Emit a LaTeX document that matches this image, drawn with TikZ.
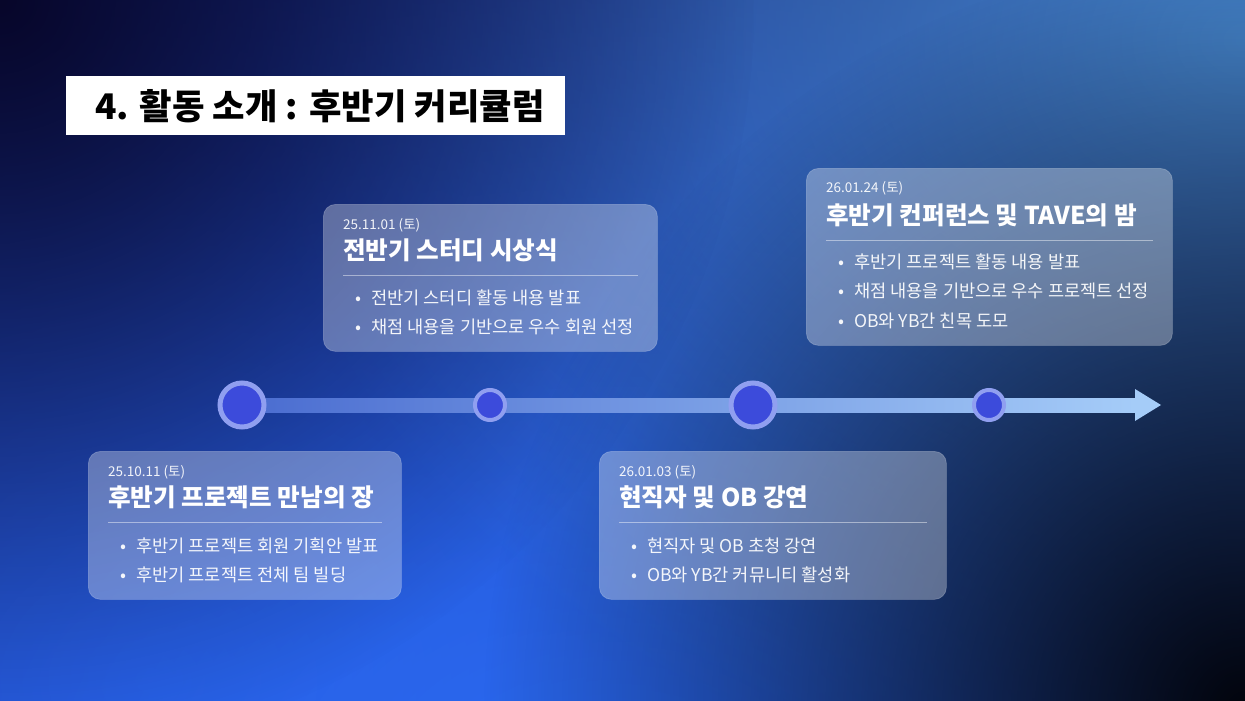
\documentclass[tikz,border=0pt]{standalone}
\usepackage{fontspec}
\setmainfont{Noto Sans CJK KR}
\usetikzlibrary{positioning,calc,fadings}
\definecolor{tavenavy}{HTML}{100E4A}
\definecolor{tavedeep}{HTML}{07062A}
\definecolor{taveblue}{HTML}{2B6BF4}
\definecolor{taveroyal}{HTML}{2450D6}
\definecolor{tavesky}{HTML}{4584CA}
\definecolor{tavenight}{HTML}{02040C}
\definecolor{tavering}{HTML}{909FF0}
\definecolor{tavedot}{HTML}{3C4BDB}
\definecolor{tavebarl}{HTML}{4A6CD0}
\definecolor{tavebarr}{HTML}{A5CCF8}
\tikzfading[name=softblob, inner color=transparent!0, outer color=transparent!100]

\begin{document}
\begin{tikzpicture}[x=1pt,y=-1pt,
  cardbox/.style={rectangle,rounded corners=12pt,fill=white,fill opacity=0.32,
    draw=white,draw opacity=0.2,line width=0.8pt,anchor=north west,inner sep=0pt},
  datetxt/.style={anchor=west,inner sep=0pt,text=white,text opacity=0.92,
    font=\fontsize{13.5}{15}\selectfont},
  headtxt/.style={anchor=west,inner sep=0pt,text=white,
    font=\bfseries\fontsize{24.6}{28}\selectfont},
  itemtxt/.style={anchor=west,inner sep=0pt,text=white,text opacity=0.93,
    font=\fontsize{17.6}{20}\selectfont},
  rule/.style={white,opacity=0.45,line width=1pt},
  bigdot/.style={circle,minimum size=44pt,inner sep=0pt,fill=tavedot,draw=tavering,line width=5pt},
  smalldot/.style={circle,minimum size=30pt,inner sep=0pt,fill=tavedot,draw=tavering,line width=4pt}]

  % background
  \useasboundingbox (0,0) rectangle (1245,701);
  \begin{scope}
    \clip (0,0) rectangle (1245,701);
    \fill[tavenavy] (0,0) rectangle (1245,701);
    \fill[taveroyal,path fading=softblob] (150,680) ellipse (1100 and 900);
    \fill[taveblue,path fading=softblob] (620,790) ellipse (1800 and 1200);
    \fill[tavesky,path fading=softblob] (1245,40) ellipse (1000 and 800);
    \fill[tavedeep,path fading=softblob] (0,0) circle (760);
    \fill[tavenight,path fading=softblob] (1245,710) circle (760);
  \end{scope}

  % title
  \node[fill=white,anchor=north west,minimum width=499pt,minimum height=59pt,inner sep=0pt]
    (titlebox) at (66,76) {};
  \node[anchor=west,inner sep=0pt,font=\bfseries\fontsize{35.3}{40}\selectfont]
    (titletxt) at ($(titlebox.west)+(29,0)$) {4. 활동 소개 : 후반기 커리큘럼};

  % timeline
  \coordinate (t1) at (242,405);
  \coordinate (t2) at (490,405);
  \coordinate (t3) at (753,405);
  \coordinate (t4) at (989,405);
  \coordinate (tip) at (1161,405);
  \shade[left color=tavebarl,right color=tavebarr]
    ($(t1)+(0,-7)$) rectangle ($(tip)+(-26,7)$);
  \fill[tavebarr] ($(tip)+(-26,-16)$) -- (tip) -- ($(tip)+(-26,16)$) -- cycle;
  \node[bigdot] (d1) at (t1) {};
  \node[smalldot] (d2) at (t2) {};
  \node[bigdot] (d3) at (t3) {};
  \node[smalldot] (d4) at (t4) {};

  % 25.10.11
  \node[cardbox,minimum width=313pt,minimum height=148pt] (acard) at (88,451) {};
  \node[datetxt] (adate) at ($(acard.north west)+(20,21)$) {25.10.11 (토)};
  \node[headtxt] (ahead) at ($(acard.north west)+(20,46)$) {후반기 프로젝트 만남의 장};
  \draw[rule] ($(acard.north west)+(20,71)$) -- ($(acard.north east)+(-20,71)$);
  \node[itemtxt] (aitem1) at ($(acard.north west)+(32,95)$) {•\hspace{10pt}후반기 프로젝트 회원 기획안 발표};
  \node[itemtxt] (aitem2) at ($(acard.north west)+(32,124)$) {•\hspace{10pt}후반기 프로젝트 전체 팀 빌딩};

  % 25.11.01
  \node[cardbox,minimum width=334pt,minimum height=147pt] (bcard) at (323,204) {};
  \node[datetxt] (bdate) at ($(bcard.north west)+(20,21)$) {25.11.01 (토)};
  \node[headtxt] (bhead) at ($(bcard.north west)+(20,46)$) {전반기 스터디 시상식};
  \draw[rule] ($(bcard.north west)+(20,71)$) -- ($(bcard.north east)+(-20,71)$);
  \node[itemtxt] (bitem1) at ($(bcard.north west)+(32,94)$) {•\hspace{10pt}전반기 스터디 활동 내용 발표};
  \node[itemtxt] (bitem2) at ($(bcard.north west)+(32,123)$) {•\hspace{10pt}채점 내용을 기반으로 우수 회원 선정};

  % 26.01.03
  \node[cardbox,minimum width=347pt,minimum height=148pt] (dcard) at (599,451) {};
  \node[datetxt] (ddate) at ($(dcard.north west)+(20,21)$) {26.01.03 (토)};
  \node[headtxt] (dhead) at ($(dcard.north west)+(20,46)$) {현직자 및 OB 강연};
  \draw[rule] ($(dcard.north west)+(20,71)$) -- ($(dcard.north east)+(-20,71)$);
  \node[itemtxt] (ditem1) at ($(dcard.north west)+(32,95)$) {•\hspace{10pt}현직자 및 OB 초청 강연};
  \node[itemtxt] (ditem2) at ($(dcard.north west)+(32,124)$) {•\hspace{10pt}OB와 YB간 커뮤니티 활성화};

  % 26.01.24
  \node[cardbox,minimum width=366pt,minimum height=177pt] (ccard) at (806,168) {};
  \node[datetxt] (cdate) at ($(ccard.north west)+(20,20)$) {26.01.24 (토)};
  \node[headtxt] (chead) at ($(ccard.north west)+(20,47)$) {후반기 컨퍼런스 및 TAVE의 밤};
  \draw[rule] ($(ccard.north west)+(20,72)$) -- ($(ccard.north east)+(-20,72)$);
  \node[itemtxt] (citem1) at ($(ccard.north west)+(32,94)$) {•\hspace{10pt}후반기 프로젝트 활동 내용 발표};
  \node[itemtxt] (citem2) at ($(ccard.north west)+(32,123)$) {•\hspace{10pt}채점 내용을 기반으로 우수 프로젝트 선정};
  \node[itemtxt] (citem3) at ($(ccard.north west)+(32,153)$) {•\hspace{10pt}OB와 YB간 친목 도모};
\end{tikzpicture}
\end{document}
